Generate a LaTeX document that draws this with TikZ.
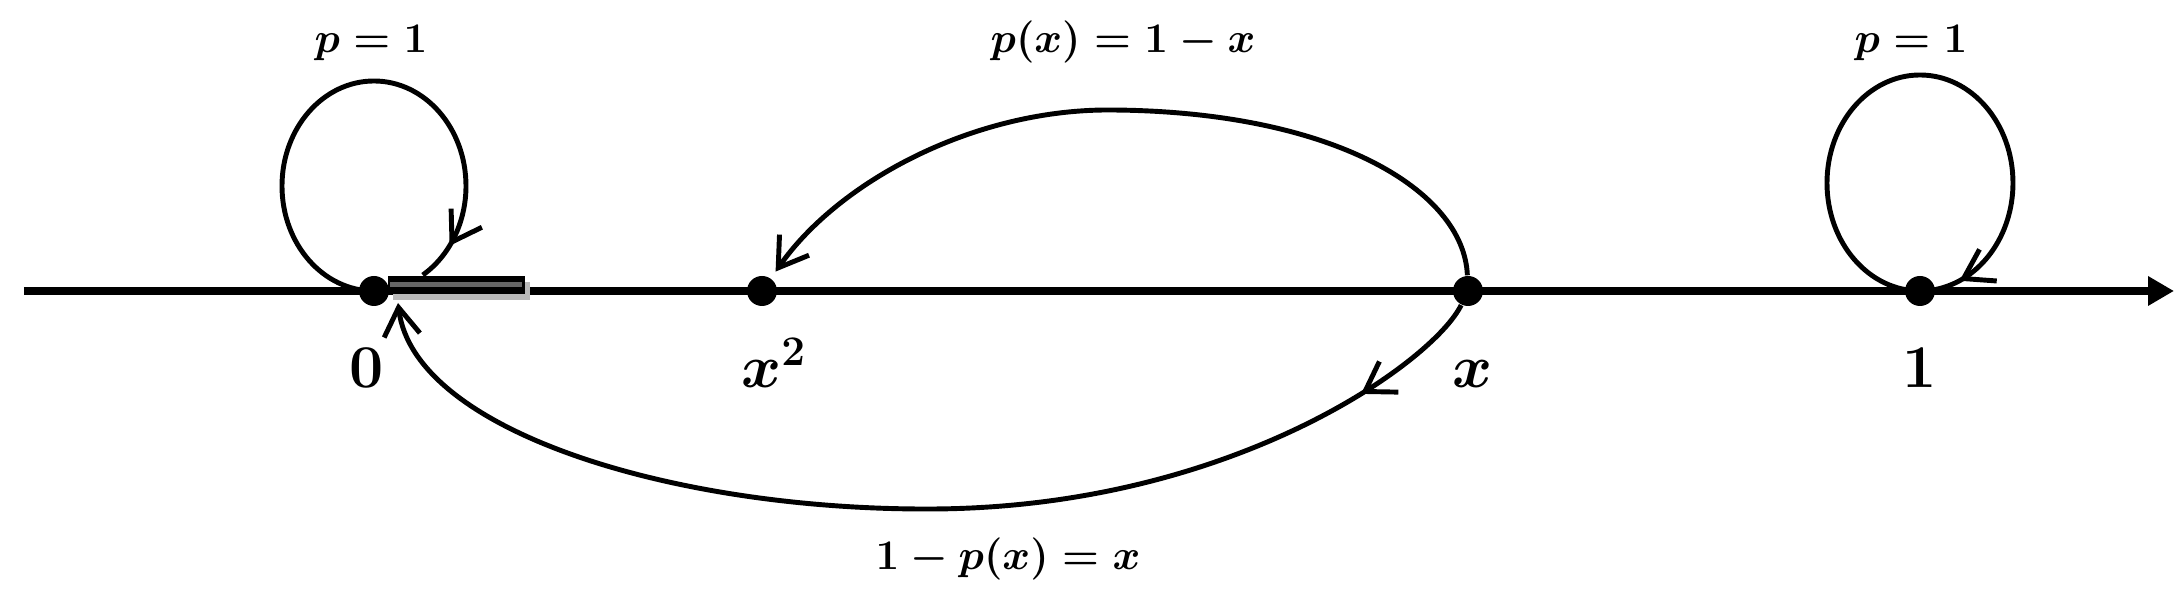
\documentclass[tikz,border=0pt]{standalone}
\usetikzlibrary{arrows.meta,decorations.markings}

\tikzset{
    axisline/.style={line width=2.3pt, -{Triangle[length=2.6mm,width=2.8mm]}},
    dot/.style={circle, fill=black, inner sep=0pt, minimum size=3mm},
    curve/.style={line width=1.4pt},
    barb/.style={-{Straight Barb[length=2.8mm,width=3.6mm]}},
    midarrow/.style={postaction={decorate}, decoration={markings,
        mark=at position #1 with {\arrow{Straight Barb[length=2.8mm,width=3.6mm]}}}},
    toplbl/.style={anchor=base, inner sep=0pt, font=\fontsize{13}{15}\selectfont\boldmath},
    ptlbl/.style={anchor=base, inner sep=0pt, font=\fontsize{18}{20}\selectfont\boldmath},
}

\begin{document}
\begin{tikzpicture}

    \useasboundingbox (-3.74,-2.99) rectangle (18.10,2.91);

    % the real line
    \coordinate (axstart) at (-3.50,0);
    \coordinate (axend) at (18.00,0);
    \draw[axisline] (axstart) -- (axend);

    % small interval next to 0
    \fill[gray!55] (0.19,-0.09) rectangle (1.56,0.09);
    \fill[black] (0.14,-0.03) rectangle (1.51,0.15);
    \fill[black!60] (0.16,0.04) rectangle (1.48,0.09);

    % points
    \node[dot] (zero) at (0,0) {};
    \node[dot] (xsq) at (3.88,0) {};
    \node[dot] (xpt) at (10.94,0) {};
    \node[dot] (one) at (15.46,0) {};

    \coordinate (tipzero) at (0.24,-0.12);

    % loops
    \draw[curve, midarrow=-0.4cm] (zero.center)
        arc[start angle=270, end angle=-58, x radius=0.92, y radius=1.05];
    \draw[curve, midarrow=-0.25cm] (one.center)
        arc[start angle=270, end angle=-80, x radius=0.93, y radius=1.08];

    % jumps from x
    \draw[curve, barb, shorten >=0.8mm] (xpt) .. controls (10.9,1.0) and (9.6,1.8) .. (7.36,1.81)
        .. controls (6.0,1.816) and (4.65,1.1) .. (xsq);
    \draw[curve, barb, midarrow=1.35cm] (xpt) .. controls (10.6,-0.7) and (8.6,-2.16) .. (5.6,-2.18)
        .. controls (3.0,-2.197) and (0.4,-1.4) .. (tipzero);

    % labels
    \node[toplbl] (pzero) at (-0.03,2.38) {$p=1$};
    \node[toplbl] (pup) at (7.49,2.38) {$p(x)=1-x$};
    \node[toplbl] (pone) at (15.37,2.38) {$p=1$};
    \node[toplbl] (pdown) at (6.34,-2.79) {$1-p(x)=x$};

    \node[ptlbl] (lzero) at (-0.07,-0.97) {$0$};
    \node[ptlbl] (lxsq) at (4.00,-0.97) {$x^2$};
    \node[ptlbl] (lxpt) at (10.99,-0.97) {$x$};
    \node[ptlbl] (lone) at (15.46,-0.97) {$1$};

\end{tikzpicture}
\end{document}
